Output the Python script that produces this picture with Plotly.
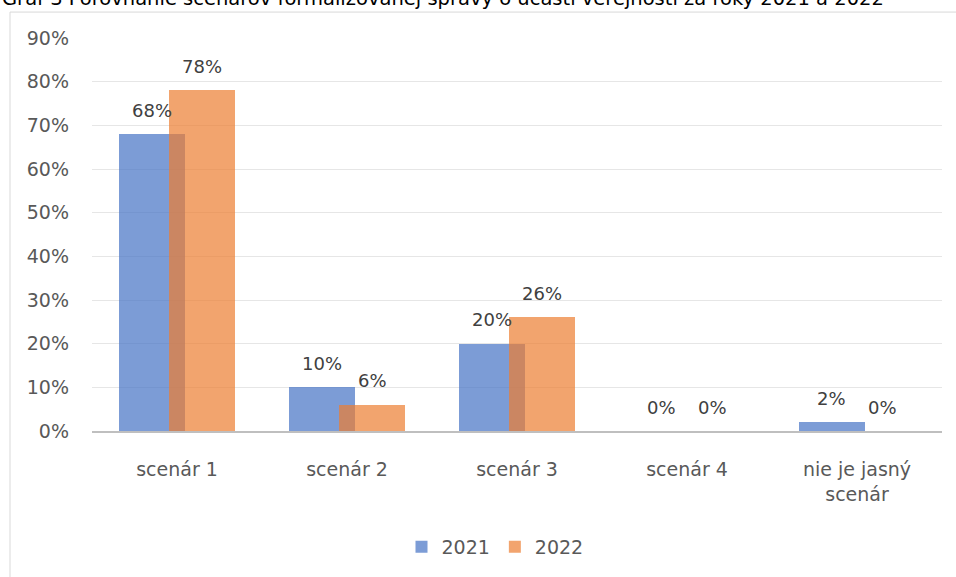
import plotly.graph_objects as go

# Categories and shares per year
categories = ["scenár 1", "scenár 2", "scenár 3", "scenár 4", "nie je jasný<br>scenár"]
values_2021 = [0.68, 0.10, 0.20, 0.00, 0.02]
values_2022 = [0.78, 0.06, 0.26, 0.00, 0.00]
series_names = ["2021", "2022"]
y_ticks = [0.0, 0.1, 0.2, 0.3, 0.4, 0.5, 0.6, 0.7, 0.8, 0.9]

title_text = "Graf 3 Porovnanie scenárov formalizovanej správy o účasti verejnosti za roky 2021 a 2022"

FONT = "DejaVu Sans"
BLUE = "rgba(68,114,196,0.7)"
ORANGE = "rgba(237,125,49,0.7)"
BAR_W = 0.39
OFFSETS = [-0.343, -0.047]

W, H = 956, 577
ML, MR, MT, MB = 92, 14, 38, 145
PW, PH = W - ML - MR, H - MT - MB


def px_x(p):
    return (p - ML) / PW


def px_y(p):
    return (H - MB - p) / PH


fig = go.Figure()
for name, vals, color, off in zip(series_names, [values_2021, values_2022],
                                  [BLUE, ORANGE], OFFSETS):
    fig.add_trace(go.Bar(
        x=categories, y=vals, name=name,
        marker=dict(color=color, line=dict(width=0)),
        width=BAR_W, offset=off,
    ))

# value labels above each bar
annotations = []
for vals, off in zip([values_2021, values_2022], OFFSETS):
    for i, v in enumerate(vals):
        annotations.append(dict(
            x=i + off + BAR_W / 2, y=v, xref="x", yref="y",
            text=f"{round(v * 100)}%", showarrow=False,
            yanchor="middle", yshift=24,
            font=dict(family=FONT, size=18, color="#404040"),
        ))

# chart title, sitting at the very top edge
annotations.append(dict(
    x=px_x(0), y=px_y(-2), xref="paper", yref="paper",
    xanchor="left", yanchor="middle", showarrow=False,
    text=title_text, font=dict(family=FONT, size=19.5, color="#000000"),
))

# chart-area frame
shapes = [dict(type="rect", xref="paper", yref="paper",
               x0=px_x(10), x1=px_x(962), y0=px_y(585), y1=px_y(12),
               line=dict(color="#D9D9D9", width=1), fillcolor="rgba(0,0,0,0)",
               layer="below")]

fig.update_layout(
    width=W, height=H,
    margin=dict(l=ML, r=MR, t=MT, b=MB, pad=0),
    paper_bgcolor="white", plot_bgcolor="white",
    barmode="overlay",
    bargap=0,
    font=dict(family=FONT, color="#595959"),
    showlegend=True,
    legend=dict(orientation="h", x=0.5 - 22 / PW, xanchor="center",
                y=px_y(547), yanchor="middle",
                font=dict(family=FONT, size=19, color="#595959"),
                itemwidth=30, traceorder="normal"),
    annotations=annotations,
    shapes=shapes,
    xaxis=dict(
        type="category", showgrid=False, showline=True,
        linecolor="#BFBFBF", linewidth=2, ticks="",
        tickfont=dict(family=FONT, size=19, color="#595959"),
        ticklabelstandoff=20,
    ),
    yaxis=dict(
        range=[0, 0.9], tickvals=y_ticks, tickformat=".0%",
        showgrid=True, gridcolor="#E6E6E6", gridwidth=1,
        zeroline=False, showline=False, ticks="",
        tickfont=dict(family=FONT, size=19, color="#595959"),
        ticklabelstandoff=22,
    ),
)

fig.write_html("out.html")
